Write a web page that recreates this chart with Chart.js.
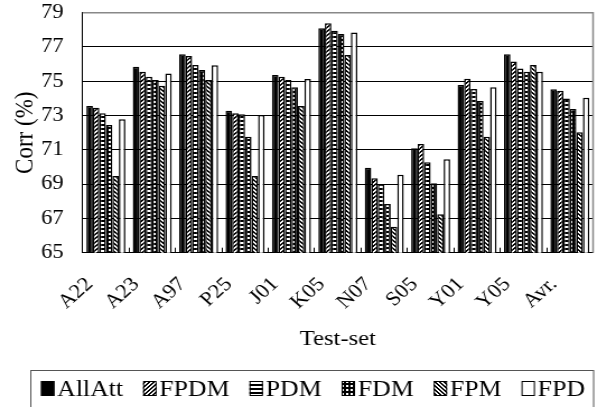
<!DOCTYPE html>
<html>
<head>
<meta charset="utf-8">
<script src="https://cdn.jsdelivr.net/npm/chart.js@4.4.0/dist/chart.umd.min.js"></script>
<style>
  html, body { margin: 0; padding: 0; background: #fff; overflow: hidden; }
  /* the original figure is a bit wider than tall in its text, so stretch it */
  #chart { transform: scaleX(1.12); transform-origin: 0 0; }
</style>
</head>
<body>
<canvas id="chart" width="536" height="407" style="width:536px;height:407px"></canvas>
<script>
// Test sets on the x axis
const categories = ['A22', 'A23', 'A97', 'P25', 'J01', 'K05', 'N07', 'S05', 'Y01', 'Y05', 'Avr.'];

// Corr (%) per feature set
const allAtt = [73.56, 75.85, 76.57, 73.28, 75.37, 78.09, 69.96, 71.09, 74.78, 76.57, 74.53];
const fpdm   = [73.46, 75.56, 76.47, 73.13, 75.27, 78.38, 69.34, 71.34, 75.15, 76.16, 74.45];
const pdm    = [73.13, 75.27, 75.95, 73.07, 75.07, 77.95, 69.00, 70.27, 74.55, 75.75, 74.00];
const fdm    = [72.45, 75.07, 75.66, 71.77, 74.65, 77.76, 67.84, 69.05, 73.85, 75.56, 73.38];
const fpm    = [69.47, 74.74, 75.07, 69.47, 73.56, 76.53, 66.52, 67.25, 71.77, 75.95, 72.02];
const fpd    = [72.78, 75.46, 75.93, 73.03, 75.13, 77.85, 69.55, 70.45, 74.65, 75.56, 74.04];

const yTicks = [65, 67, 69, 71, 73, 75, 77, 79];

// small black/white fill patterns like the old excel ones
function makePattern(size, isBlack) {
    const c = document.createElement('canvas');
    c.width = size; c.height = size;
    const g = c.getContext('2d');
    g.fillStyle = '#fff';
    g.fillRect(0, 0, size, size);
    g.fillStyle = '#000';
    for (let x = 0; x < size; x++)
        for (let y = 0; y < size; y++)
            if (isBlack(x, y)) g.fillRect(x, y, 1, 1);
    return g.createPattern(c, 'repeat');
}
const pFwd   = makePattern(4, (x, y) => (x + y) % 4 >= 2);           // ////
const pHoriz = makePattern(4, (x, y) => y % 4 < 2);                  // ====
const pDots  = makePattern(4, (x, y) => !(x % 4 >= 1 && x % 4 <= 2 && y % 4 >= 1 && y % 4 <= 2));
const pBack  = makePattern(4, (x, y) => ((x - y) % 4 + 4) % 4 >= 2);  // \\\\

const serif = '"Liberation Serif", "Times New Roman", serif';
Chart.defaults.font.family = serif;
Chart.defaults.color = '#000';

// legend drawn in a framed box under the chart
const boxLegend = {
    id: 'boxLegend',
    afterDraw(chart) {
        const ctx = chart.ctx, area = chart.chartArea;
        const box = 12, gapIn = 2.5;
        const left = 27, right = area.right, top = 370, base = 396;
        const from = 36.6, to = 522.3;   // where the items run in the box
        ctx.save();
        ctx.font = '23px ' + serif;
        ctx.textAlign = 'left';
        const items = chart.data.datasets.map(ds => ({ ds, w: ctx.measureText(ds.label).width }));
        const used = items.reduce((s, it) => s + box + gapIn + it.w, 0);
        const gapOut = (to - from - used) / (items.length - 1);
        let x = from;
        ctx.strokeStyle = '#555';
        ctx.lineWidth = 1;
        ctx.strokeRect(left + 0.5, top + 0.5, right - left, 60);
        ctx.strokeStyle = '#000';
        items.forEach(it => {
            ctx.fillStyle = it.ds.backgroundColor;
            ctx.fillRect(x, base - 15, box, 15);
            ctx.strokeRect(x + 0.5, base - 14.5, box - 1, 14);
            ctx.fillStyle = '#000';
            ctx.textBaseline = 'alphabetic';
            ctx.fillText(it.ds.label, x + box + gapIn, base);
            x += box + gapIn + it.w + gapOut;
        });
        ctx.restore();
    }
};

// grey plot frame on the right side
const plotFrame = {
    id: 'plotFrame',
    beforeDatasetsDraw(chart) {
        const { ctx, chartArea: a } = chart;
        ctx.save();
        ctx.strokeStyle = '#888';
        ctx.lineWidth = 1.5;
        ctx.beginPath();
        ctx.moveTo(a.left, a.top);
        ctx.lineTo(a.right, a.top);
        ctx.lineTo(a.right, a.bottom);
        ctx.stroke();
        ctx.restore();
    }
};

function ds(label, data, fill) {
    return {
        label: label,
        data: data,
        backgroundColor: fill,
        borderColor: '#000',
        borderWidth: 1.5,
        borderSkipped: false,
        barPercentage: 1.0,
        categoryPercentage: 0.84
    };
}

new Chart(document.getElementById('chart'), {
    type: 'bar',
    data: {
        labels: categories,
        datasets: [
            ds('AllAtt', allAtt, '#000'),
            ds('FPDM', fpdm, pFwd),
            ds('PDM', pdm, pHoriz),
            ds('FDM', fdm, pDots),
            ds('FPM', fpm, pBack),
            ds('FPD', fpd, '#fff')
        ]
    },
    options: {
        responsive: false,
        animation: false,
        events: [],
        layout: { padding: { left: 0, right: 6.5, top: 12.7, bottom: 47 } },
        plugins: {
            legend: { display: false },
            tooltip: { enabled: false }
        },
        scales: {
            x: {
                grid: { display: true, drawOnChartArea: false, drawTicks: true, tickLength: -5, color: '#000', offset: true },
                border: { display: true, color: '#000', width: 1 },
                ticks: {
                    font: { size: 20 },
                    minRotation: 45,
                    maxRotation: 45,
                    autoSkip: false,
                    padding: 25,
                    labelOffset: -14.5
                },
                title: { display: true, text: 'Test-set', font: { size: 22 }, padding: { top: 0, bottom: 8 } },
                afterFit(s) { s.height = 107.3; s.paddingLeft = 0; s.paddingRight = 0; }
            },
            y: {
                min: 65,
                max: 79,
                afterBuildTicks(s) { s.ticks = yTicks.map(v => ({ value: v })); },
                grid: { color: c => (c.tick && c.tick.value === 79) ? '#888' : '#000', lineWidth: 1, drawTicks: false },
                border: { display: true, color: '#000', width: 1 },
                ticks: { font: { size: 20 }, padding: 17 },
                title: { display: true, text: 'Corr (%)', font: { size: 23 }, padding: { top: 9, bottom: 0 } },
                afterFit(s) { s.width = 73.8; s.paddingTop = 0; s.paddingBottom = 0; }
            }
        }
    },
    plugins: [plotFrame, boxLegend]
});
</script>
</body>
</html>
